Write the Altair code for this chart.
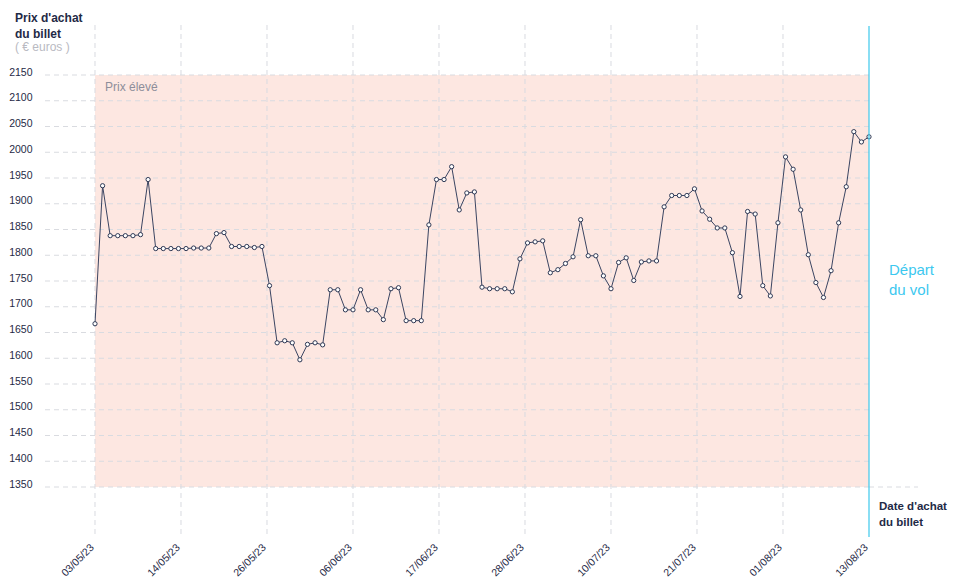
import altair as alt
import pandas as pd

# ---- data ----
start_date = "2023-05-03"
prices = [
    1667, 1935, 1838, 1838, 1838, 1838, 1840, 1947, 1813, 1813,
    1813, 1813, 1813, 1814, 1814, 1814, 1842, 1844, 1817, 1817,
    1817, 1815, 1817, 1741, 1630, 1634, 1630, 1597, 1627, 1630,
    1626, 1733, 1733, 1694, 1694, 1733, 1694, 1694, 1675, 1735,
    1737, 1673, 1673, 1673, 1859, 1947, 1947, 1972, 1888, 1921,
    1923, 1738, 1735, 1735, 1735, 1729, 1793, 1824, 1826, 1828,
    1766, 1772, 1784, 1797, 1869, 1799, 1799, 1760, 1735, 1786,
    1795, 1751, 1787, 1789, 1789, 1894, 1916, 1916, 1916, 1929,
    1886, 1870, 1853, 1853, 1805, 1720, 1885, 1880, 1741, 1721,
    1863, 1991, 1967, 1888, 1801, 1747, 1718, 1770, 1863, 1933,
    2040, 2020, 2030,
]
x_tick_labels = ["03/05/23", "14/05/23", "26/05/23", "06/06/23", "17/06/23",
                 "28/06/23", "10/07/23", "21/07/23", "01/08/23", "13/08/23"]
y_ticks = list(range(1350, 2151, 50))
band_low, band_high = 1350, 2150

# ---- tables ----
n = len(prices)
last_day = n - 1
df = pd.DataFrame({
    "day": list(range(n)),
    "price": prices,
    "date": pd.date_range(start_date, periods=n).strftime("%d/%m/%y"),
})
tick_pos = [i * last_day / (len(x_tick_labels) - 1) for i in range(len(x_tick_labels))]
vgrid = pd.DataFrame({"pos": tick_pos[:-1]})
hgrid = pd.DataFrame({"v": y_ticks})

NAVY = "#1f2a46"
GRID = "#d9dbe0"
FONT = "Liberation Sans"
W, H = 824, 515

label_arr = "[" + ",".join("'%s'" % s for s in x_tick_labels) + "]"
x_scale = alt.Scale(domain=[-6.589, last_day], nice=False, zero=False)
y_scale = alt.Scale(domain=[1250, 2250], nice=False, zero=False)

x_axis = alt.Axis(values=tick_pos,
                  labelExpr=label_arr + "[round(datum.value*%d/%d)]" % (len(x_tick_labels) - 1, last_day),
                  labelAngle=315, labelAlign="right", labelBaseline="middle",
                  grid=False, domain=False, ticks=False, labelPadding=7, labelOffset=-3,
                  labelFontSize=10.5, labelColor=NAVY, labelFont=FONT, title=None)
y_axis = alt.Axis(values=y_ticks, format="d", grid=False, domain=False, ticks=False, labelPadding=13,
                  labelBaseline="alphabetic", labelFontSize=10.5, labelColor=NAVY, labelFont=FONT,
                  title=None)

band = alt.Chart(df).mark_rect(color="#fde7e1").encode(
    x=alt.X(datum=0, type="quantitative", scale=x_scale, axis=x_axis),
    x2=alt.X2(datum=last_day),
    y=alt.Y(datum=band_low, type="quantitative", scale=y_scale, axis=y_axis),
    y2=alt.Y2(datum=band_high),
).transform_filter("datum.day == 0")

hlines = alt.Chart(hgrid).mark_rule(color=GRID, strokeDash=[5, 4], strokeWidth=1).encode(
    x=alt.value(0), x2=alt.value(W),
    y=alt.Y("v:Q", scale=y_scale, axis=y_axis),
)
base_ext = alt.Chart(hgrid).transform_filter("datum.v == %d" % band_low).mark_rule(
    color=GRID, strokeDash=[5, 4], strokeWidth=1).encode(
    x=alt.value(W), x2=alt.value(W + 49),
    y=alt.Y("v:Q", scale=y_scale, axis=y_axis),
)
vlines = alt.Chart(vgrid).mark_rule(color=GRID, strokeDash=[5, 4], strokeWidth=1).encode(
    x=alt.X("pos:Q", scale=x_scale, axis=x_axis),
    y=alt.value(1.5), y2=alt.value(H - 1.5),
)

line = alt.Chart(df).mark_line(color="#3b4562", strokeWidth=1).encode(
    x=alt.X("day:Q", scale=x_scale, axis=x_axis),
    y=alt.Y("price:Q", scale=y_scale, axis=y_axis),
)
points = alt.Chart(df).mark_point(filled=True, fill="white", stroke="#2e3854", strokeWidth=1,
                                  size=18, opacity=1).encode(
    x=alt.X("day:Q", scale=x_scale, axis=x_axis),
    y=alt.Y("price:Q", scale=y_scale, axis=y_axis),
    tooltip=["date:N", "price:Q"],
)

depart_rule = alt.Chart(df).transform_filter("datum.day == %d" % last_day).mark_rule(
    color="#3cc8ec", strokeWidth=1.2).encode(
    x=alt.X("day:Q", scale=x_scale, axis=x_axis),
    y=alt.value(2.5), y2=alt.value(H - 1.5),
)


def txt(text, x, y, size=12, color=NAVY, weight="normal"):
    return alt.Chart(pd.DataFrame({"t": [text]})).mark_text(
        align="left", baseline="alphabetic", fontSize=size, color=color,
        fontWeight=weight, font=FONT).encode(
        text="t:N", x=alt.value(x), y=alt.value(y))


texts = [
    txt("Prix d'achat", -30, -1.5, 12, NAVY, "bold"),
    txt("du billet", -30, 14.5, 12, NAVY, "bold"),
    txt("( € euros )", -30, 27, 12, "#b9bac2"),
    txt("Prix élevé", 60, 67, 12, "#8d8e9a"),
    txt("Départ", 844, 251.5, 15, "#3cc8ef"),
    txt("du vol", 844, 271.5, 15, "#3cc8ef"),
    txt("Date d'achat", 834, 486.5, 11.5, NAVY, "bold"),
    txt("du billet", 834, 502, 11.5, NAVY, "bold"),
]

chart = alt.layer(band, hlines, base_ext, vlines, line, points, depart_rule, *texts).properties(
    width=W, height=H,
    autosize=alt.AutoSizeParams(type="none"),
    padding={"left": 37, "top": 15.5, "right": 80, "bottom": 38.5},
).configure_view(stroke=None)

chart.save("out.html", embed_options={"renderer": "svg", "actions": False})
